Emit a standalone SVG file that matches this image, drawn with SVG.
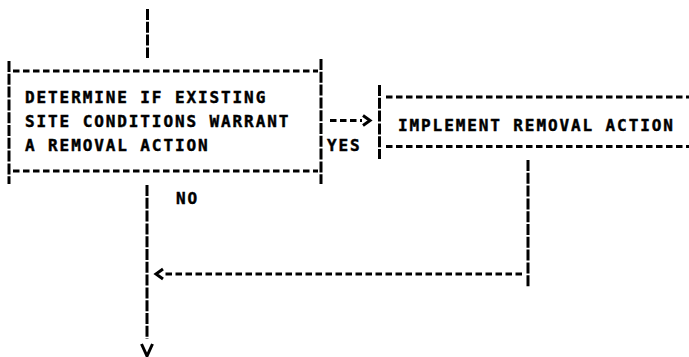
<svg xmlns="http://www.w3.org/2000/svg" width="689" height="357" viewBox="0 0 689 357">
<style>
.h{stroke:#000;stroke-width:3;stroke-dasharray:6.5 3.5;fill:none}
.v{stroke:#000;stroke-width:3;stroke-dasharray:11 1.8;fill:none}
.head{stroke:#000;stroke-width:3;fill:none;stroke-linejoin:miter;stroke-linecap:butt}
text{font-family:"DejaVu Sans Mono","Liberation Mono",monospace;font-weight:bold;font-size:16px;letter-spacing:1.9px;fill:#000;stroke:#000;stroke-width:0.45}
</style>
<rect width="689" height="357" fill="#fff"/>
<g id="node-determine">
<line class="h" x1="13" y1="71" x2="318" y2="71"/>
<line class="h" x1="13" y1="171" x2="318" y2="171"/>
<line class="v" x1="9" y1="61" x2="9" y2="184"/>
<line class="v" x1="321" y1="59" x2="321" y2="184"/>
<text x="25" y="102.5">DETERMINE IF EXISTING</text>
<text x="25" y="126.5">SITE CONDITIONS WARRANT</text>
<text x="25" y="150.5">A REMOVAL ACTION</text>
</g>
<g id="node-implement">
<line class="v" x1="379.5" y1="85" x2="379.5" y2="159"/>
<line class="h" x1="386" y1="97" x2="689" y2="97"/>
<line class="h" x1="386" y1="146.5" x2="689" y2="146.5"/>
<text x="398" y="131">IMPLEMENT REMOVAL ACTION</text>
</g>
<g id="connectors">
<line class="v" x1="147.5" y1="9" x2="147.5" y2="58"/>
<line class="h" x1="330" y1="120.5" x2="362" y2="120.5"/>
<polyline class="head" points="363,115.5 370,120.5 363,125.5"/>
<text x="327" y="151">YES</text>
<line class="v" x1="147" y1="185" x2="147" y2="339"/>
<polyline class="head" points="141.5,344 147,356 152.5,344"/>
<text x="176" y="204">NO</text>
<line class="v" x1="528" y1="160" x2="528" y2="288"/>
<line class="h" x1="522" y1="274" x2="164" y2="274"/>
<polyline class="head" points="163,269 156,274 163,279"/>
</g>
</svg>
